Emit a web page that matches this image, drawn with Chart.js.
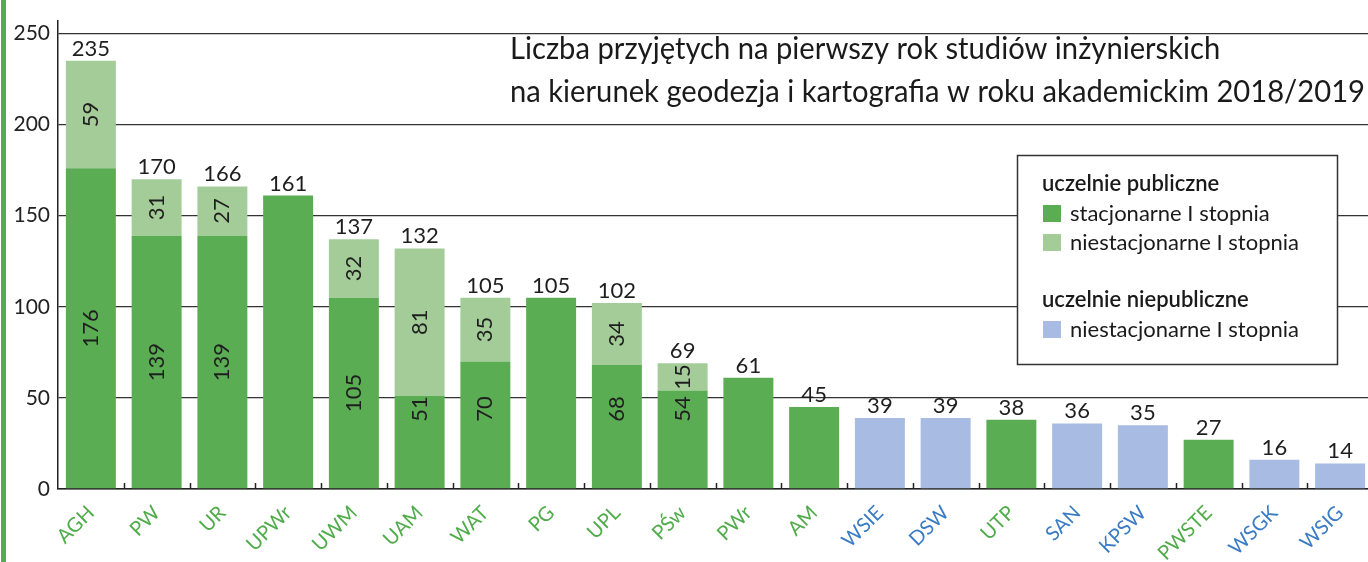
<!DOCTYPE html>
<html>
<head>
<meta charset="utf-8">
<script src="https://cdn.jsdelivr.net/npm/chart.js@4.4.1/dist/chart.umd.min.js"></script>
<style>
  html, body { margin: 0; padding: 0; background: #fff; overflow: hidden; }
  #wrap { width: 1373px; height: 562px; position: relative; }
</style>
</head>
<body>
<div id="wrap"><canvas id="bar-chart"></canvas></div>
<script>
// Uczelnie i liczba przyjętych (rok akad. 2018/2019)
var uczelnie = ['AGH', 'PW', 'UR', 'UPWr', 'UWM', 'UAM', 'WAT', 'PG', 'UPL', 'PŚw', 'PWr', 'AM',
                'WSIE', 'DSW', 'UTP', 'SAN', 'KPSW', 'PWSTE', 'WSGK', 'WSIG'];
var publiczna = [true, true, true, true, true, true, true, true, true, true, true, true,
                 false, false, true, false, false, true, false, false];
var stacjonarne = [176, 139, 139, 161, 105, 51, 70, 105, 68, 54, 61, 45,
                   null, null, 38, null, null, 27, null, null];
var niestacjonarne = [59, 31, 27, null, 32, 81, 35, null, 34, 15, null, null,
                      null, null, null, null, null, null, null, null];
var niepubliczne = [null, null, null, null, null, null, null, null, null, null, null, null,
                    39, 39, null, 36, 35, null, 16, 14];
var podzialkaY = [0, 50, 100, 150, 200, 250];
var tytul = ['Liczba przyjętych na pierwszy rok studiów inżynierskich',
             'na kierunek geodezja i kartografia w roku akademickim 2018/2019'];
var naglowkiLegendy = ['uczelnie publiczne', 'uczelnie niepubliczne'];

var FONT = 'Lato';
var zielony = 'rgb(91,173,84)';
var jasnyZielony = 'rgb(164,204,153)';
var niebieski = 'rgb(168,187,226)';

var dekoracje = {
  id: 'dekoracje',
  afterDatasetsDraw: function (chart) {
    var ctx = chart.ctx, x = chart.scales.x, y = chart.scales.y;
    ctx.save();
    // kreski między kategoriami
    ctx.strokeStyle = '#222';
    ctx.lineWidth = 1.5;
    for (var i = 1; i < uczelnie.length; i++) {
      var px = Math.round((x.getPixelForValue(i - 1) + x.getPixelForValue(i)) / 2) + 0.5;
      ctx.beginPath();
      ctx.moveTo(px, y.bottom);
      ctx.lineTo(px, y.bottom - 6);
      ctx.stroke();
    }
    // sumy nad słupkami
    ctx.fillStyle = '#1e1e1e';
    ctx.font = '22px ' + FONT;
    ctx.textAlign = 'center';
    ctx.textBaseline = 'alphabetic';
    uczelnie.forEach(function (u, i) {
      var top = Infinity, suma = 0;
      chart.data.datasets.forEach(function (ds, d) {
        var v = ds.data[i];
        if (v == null) return;
        suma += v;
        top = Math.min(top, chart.getDatasetMeta(d).data[i].y);
      });
      ctx.fillText(suma, x.getPixelForValue(i), top - 5);
    });
    // wartości wewnątrz słupków skumulowanych
    uczelnie.forEach(function (u, i) {
      if (stacjonarne[i] == null || niestacjonarne[i] == null) return;
      [0, 1].forEach(function (d) {
        var el = chart.getDatasetMeta(d).data[i];
        var cy = (el.y + el.base) / 2;
        if (d === 0) cy = Math.min(cy, y.bottom - 80);
        ctx.save();
        ctx.translate(el.x, cy);
        ctx.rotate(-Math.PI / 2);
        ctx.textBaseline = 'middle';
        ctx.fillText(chart.data.datasets[d].data[i], 0, 0);
        ctx.restore();
      });
    });
    ctx.restore();
  },
  afterDraw: function (chart) {
    var ctx = chart.ctx;
    ctx.save();
    // zielony pasek z lewej
    ctx.fillStyle = 'rgb(82,172,80)';
    ctx.fillRect(1, 0, 5, chart.height);

    // tytuł
    ctx.fillStyle = '#1a1a1a';
    ctx.font = '31px ' + FONT;
    ctx.textAlign = 'left';
    ctx.textBaseline = 'alphabetic';
    var sx = 855 / ctx.measureText(tytul[1]).width;
    ctx.save();
    ctx.translate(510, 0);
    ctx.scale(sx, 1);
    ctx.fillText(tytul[0], 0, 59);
    ctx.fillText(tytul[1], 0, 102);
    ctx.restore();

    // legenda
    ctx.fillStyle = '#fff';
    ctx.fillRect(1017, 155, 321, 210);
    ctx.strokeStyle = '#333';
    ctx.lineWidth = 1.5;
    ctx.strokeRect(1017.5, 155.5, 320, 209);
    ctx.textBaseline = 'middle';
    ctx.fillStyle = '#1a1a1a';
    ctx.font = '600 22px ' + FONT;
    ctx.fillText(naglowkiLegendy[0], 1042, 184);
    ctx.fillText(naglowkiLegendy[1], 1042, 300);
    var wiersze = [[0, 213], [1, 242], [2, 329]];
    ctx.font = '22px ' + FONT;
    wiersze.forEach(function (w) {
      var ds = chart.data.datasets[w[0]];
      ctx.fillStyle = ds.backgroundColor;
      ctx.fillRect(1043, w[1] - 8, 18, 17);
      ctx.fillStyle = '#1a1a1a';
      ctx.fillText(ds.label, 1070, w[1] + 1);
    });
    ctx.restore();
  }
};

var ctx = document.getElementById('bar-chart').getContext('2d');
var chart = new Chart(ctx, {
  type: 'bar',
  data: {
    labels: uczelnie,
    datasets: [
      { label: 'stacjonarne I stopnia', data: stacjonarne, backgroundColor: zielony, stack: 's' },
      { label: 'niestacjonarne I stopnia', data: niestacjonarne, backgroundColor: jasnyZielony, stack: 's' },
      { label: 'niestacjonarne I stopnia', data: niepubliczne, backgroundColor: niebieski, stack: 's' }
    ]
  },
  options: {
    responsive: true,
    maintainAspectRatio: false,
    animation: false,
    layout: { padding: { top: 12, left: 0, right: 0, bottom: 0 } },
    datasets: { bar: { categoryPercentage: 1, barPercentage: 0.76 } },
    plugins: { legend: { display: false }, tooltip: { enabled: false } },
    scales: {
      x: {
        stacked: true,
        grid: { display: false },
        border: { display: true, color: '#222', width: 1.5 },
        ticks: {
          autoSkip: false,
          minRotation: 45,
          maxRotation: 45,
          padding: 4,
          font: { family: FONT, size: 20 },
          color: function (c) { return publiczna[c.index] ? 'rgb(80,172,74)' : 'rgb(58,124,196)'; }
        },
        afterFit: function (s) { s.height = 73; }
      },
      y: {
        stacked: true,
        min: 0,
        max: 257,
        afterBuildTicks: function (s) {
          s.ticks = podzialkaY.map(function (v) { return { value: v }; });
        },
        grid: { color: '#333', lineWidth: 1.3, drawTicks: false },
        border: { display: true, color: '#222', width: 1.5 },
        ticks: { padding: 8, color: '#222', font: { family: FONT, size: 21 } },
        afterFit: function (s) { s.width = 58; }
      }
    }
  },
  plugins: [dekoracje]
});
</script>
</body>
</html>
